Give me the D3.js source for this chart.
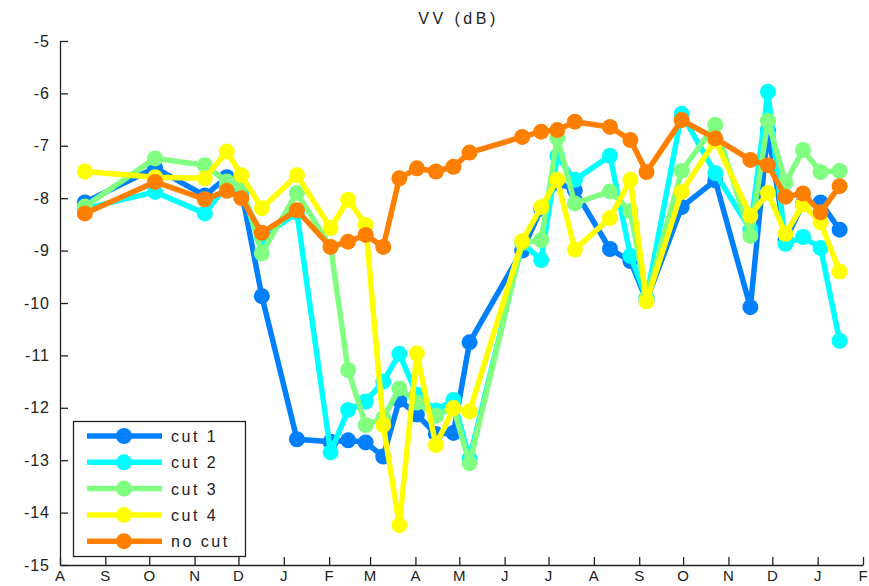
<!DOCTYPE html>
<html>
<head>
<meta charset="utf-8">
<script src="https://cdn.jsdelivr.net/npm/d3@7"></script>
<style>
  body { margin: 0; background: #fff; }
  svg { display: block; }
  text { font-family: "Liberation Sans", Arial, Helvetica, sans-serif; }
</style>
</head>
<body>
<script>
// acquisition dates (shared by every series)
var dates = ["2009-08-18", "2009-10-05", "2009-11-08", "2009-11-23", "2009-12-03", "2009-12-17",
  "2010-01-10", "2010-02-02", "2010-02-14", "2010-02-26", "2010-03-10", "2010-03-21",
  "2010-04-02", "2010-04-15", "2010-04-27", "2010-05-08", "2010-06-13", "2010-06-26",
  "2010-07-07", "2010-07-19", "2010-08-12", "2010-08-26", "2010-09-06", "2010-09-30",
  "2010-10-23", "2010-11-16", "2010-11-28", "2010-12-10", "2010-12-22", "2011-01-03", "2011-01-16"];

var cut1 = [-8.08, -7.42, -7.95, -7.6, -7.85, -9.87, -12.6, -12.65, -12.62, -12.66, -12.93, -11.85,
  -12.13, -12.5, -12.48, -10.75, -9.0, -8.2, -7.7, -7.85, -8.97, -9.2, -9.95, -8.17,
  -7.66, -10.08, -6.7, -8.8, -8.1, -8.08, -8.6];
var cut2 = [-8.2, -7.88, -8.29, -7.75, -7.9, -8.75, -8.28, -12.85, -12.04, -11.88, -11.5, -10.97,
  -11.75, -12.05, -11.85, -12.97, -8.85, -9.18, -7.2, -7.65, -7.19, -9.1, -9.9, -6.39,
  -7.52, -8.6, -5.97, -8.87, -8.74, -8.95, -10.72];
var cut3 = [-8.16, -7.24, -7.37, -7.68, -7.75, -9.05, -7.9, -8.93, -11.28, -12.33, -12.2, -11.63,
  -11.9, -12.15, -12.0, -13.06, -8.85, -8.8, -6.85, -8.1, -7.87, -8.25, -9.9, -7.48,
  -6.6, -8.72, -6.52, -7.7, -7.08, -7.5, -7.48];
var cut4 = [-7.49, -7.6, -7.62, -7.11, -7.56, -8.19, -7.56, -8.57, -8.03, -8.51, -12.33, -14.24,
  -10.96, -12.71, -12.01, -12.07, -8.82, -8.17, -7.65, -8.98, -8.38, -7.65, -9.97, -7.88,
  -6.9, -8.33, -7.9, -8.68, -8.12, -8.46, -9.4];
var nocut = [-8.29, -7.69, -8.02, -7.86, -8.0, -8.66, -8.23, -8.93, -8.83, -8.7, -8.93, -7.62,
  -7.43, -7.49, -7.4, -7.13, -6.83, -6.73, -6.7, -6.54, -6.64, -6.89, -7.5, -6.51,
  -6.86, -7.27, -7.37, -7.97, -7.91, -8.27, -7.77];

var seriesNames = ["cut 1", "cut 2", "cut 3", "cut 4", "no cut"];
var monthLabels = ["A", "S", "O", "N", "D", "J", "F", "M", "A", "M", "J", "J", "A", "S", "O", "N", "D", "J", "F"];
var yTicks = [-15, -14, -13, -12, -11, -10, -9, -8, -7, -6, -5];

var colors = ["#0080ff", "#00ffff", "#80ff80", "#ffff00", "#ff8000"];
var allValues = [cut1, cut2, cut3, cut4, nocut];

var width = 869, height = 586;
var margin = {left: 60, right: 6, top: 41, bottom: 21};

var parse = d3.timeParse("%Y-%m-%d");
var x = d3.scaleTime()
    .domain([parse("2009-08-01"), parse("2011-02-01")])
    .range([margin.left, width - margin.right]);
var y = d3.scaleLinear()
    .domain([-15, -5])
    .range([height - margin.bottom, margin.top]);

var svg = d3.select("body").append("svg")
    .attr("width", width)
    .attr("height", height);

// axes, ticks inward like matlab
var months = d3.timeMonth.range(parse("2009-08-01"), parse("2011-02-02"));
var xAxis = d3.axisBottom(x)
    .tickValues(months)
    .tickSizeInner(-8)
    .tickSizeOuter(0)
    .tickPadding(5)
    .tickFormat(function(d, i) { return monthLabels[i]; });
var yAxis = d3.axisLeft(y)
    .tickValues(yTicks)
    .tickSizeInner(-8)
    .tickSizeOuter(0)
    .tickPadding(10)
    .tickFormat(d3.format("d"));

var gx = svg.append("g")
    .attr("transform", "translate(0," + (height - margin.bottom) + ")")
    .call(xAxis);
var gy = svg.append("g")
    .attr("transform", "translate(" + margin.left + ",0)")
    .call(yAxis);

[gx, gy].forEach(function(g) {
    g.select(".domain").attr("stroke", "#222").attr("stroke-width", 1.3);
    g.selectAll(".tick line").attr("stroke", "#222").attr("stroke-width", 1.3);
    g.selectAll(".tick text")
        .attr("fill", "#222")
        .style("font-size", "15px")
        .style("letter-spacing", "1px")
        .style("font-family", "'Liberation Sans', Arial, sans-serif");
});
gy.selectAll(".tick text")
    .style("font-size", "16px")
    .text(function(d) { return d < 0 ? "-" + Math.abs(d) : d; });

svg.append("text")
    .attr("x", (margin.left + width - margin.right) / 2 - 3)
    .attr("y", 24)
    .attr("text-anchor", "middle")
    .style("font-size", "16px")
    .style("letter-spacing", "3.5px")
    .attr("fill", "#222")
    .text("VV (dB)");

// series
var line = d3.line()
    .x(function(d) { return x(d.date); })
    .y(function(d) { return y(d.value); });

allValues.forEach(function(vals, s) {
    var pts = vals.map(function(v, i) { return {date: parse(dates[i]), value: v}; });
    var g = svg.append("g");
    g.append("path")
        .datum(pts)
        .attr("d", line)
        .attr("fill", "none")
        .attr("stroke", colors[s])
        .attr("stroke-width", 5.5)
        .attr("stroke-linejoin", "round");
    g.selectAll("circle").data(pts).enter().append("circle")
        .attr("cx", function(d) { return x(d.date); })
        .attr("cy", function(d) { return y(d.value); })
        .attr("r", 8)
        .attr("fill", colors[s]);
});

// legend
var legend = svg.append("g");
legend.append("rect")
    .attr("x", 73.5)
    .attr("y", 421.5)
    .attr("width", 172)
    .attr("height", 135)
    .attr("fill", "#fff")
    .attr("stroke", "#222")
    .attr("stroke-width", 1.3);

seriesNames.forEach(function(name, i) {
    var ly = 436 + i * 26.3;
    legend.append("line")
        .attr("x1", 87).attr("x2", 162)
        .attr("y1", ly).attr("y2", ly)
        .attr("stroke", colors[i])
        .attr("stroke-width", 5.5);
    legend.append("circle")
        .attr("cx", 124).attr("cy", ly)
        .attr("r", 8)
        .attr("fill", colors[i]);
    legend.append("text")
        .attr("x", 171)
        .attr("y", ly + 6)
        .style("font-size", "16px")
        .style("letter-spacing", "2.5px")
        .attr("fill", "#222")
        .text(name);
});
</script>
</body>
</html>
